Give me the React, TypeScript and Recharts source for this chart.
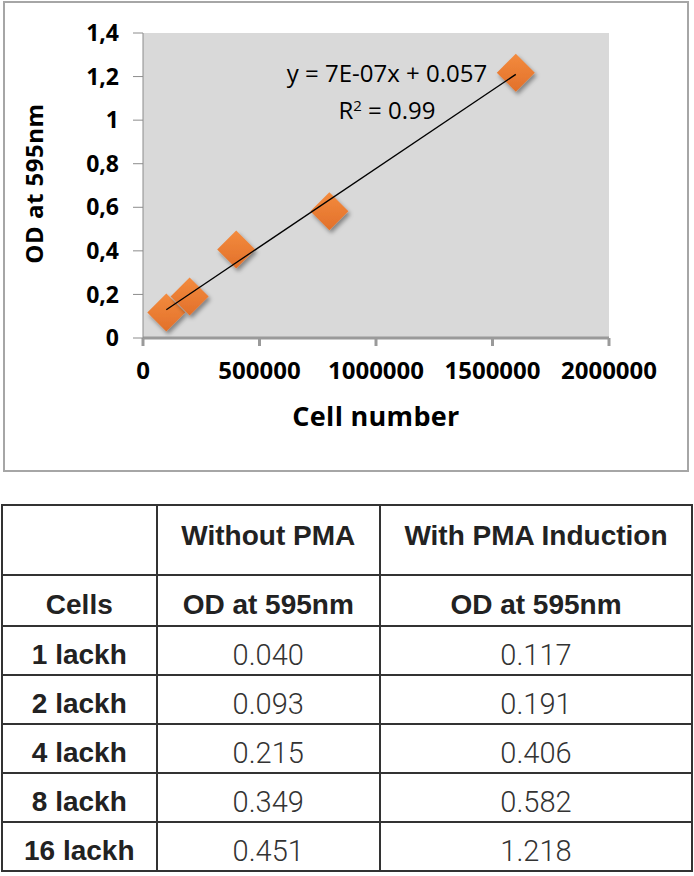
import React from "react";
import { ScatterChart, Scatter, XAxis, YAxis, CartesianGrid, Label } from "recharts";

const cellNumbers = [100000, 200000, 400000, 800000, 1600000];
const cellLabels = ["1 lackh", "2 lackh", "4 lackh", "8 lackh", "16 lackh"];
const odWithoutPMA = ["0.040", "0.093", "0.215", "0.349", "0.451"];
const odWithPMA = [0.117, 0.191, 0.406, 0.582, 1.218];
const trendX = [100000, 1600000];
const trendY = [0.13, 1.21];
const xTicks = [0, 500000, 1000000, 1500000, 2000000];
const yTicks = [0, 0.2, 0.4, 0.6, 0.8, 1, 1.2, 1.4];

const points = cellNumbers.map((x, i) => ({ x, y: odWithPMA[i] }));
const trend = trendX.map((x, i) => ({ x, y: trendY[i] }));

const chartFont = "'Open Sans', sans-serif";
const tableFont = "'Liberation Sans', Arial, sans-serif";

function Diamond(props: any) {
  const { cx, cy } = props;
  if (cx == null || cy == null) return <g />;
  const h = 19;
  return (
    <polygon
      points={`${cx},${cy - h} ${cx + h},${cy} ${cx},${cy + h} ${cx - h},${cy}`}
      fill="url(#diamondFill)"
      filter="url(#diamondShadow)"
    />
  );
}

const yTickStyle = {
  fill: "#000",
  fontSize: 23,
  fontWeight: 700,
  fontFamily: chartFont,
};

const xTickStyle = {
  fill: "#000",
  fontSize: 24,
  fontWeight: 700,
  fontFamily: chartFont,
};

const cell: React.CSSProperties = {
  border: "2px solid #333",
  textAlign: "center",
  padding: 0,
};

const valueCell: React.CSSProperties = {
  ...cell,
  fontFamily: "Roboto, sans-serif",
  fontWeight: 300,
  color: "#333",
  fontSize: 29,
  paddingTop: 8,
};

export default function App() {
  return (
    <div
      style={{
        position: "absolute",
        left: 0,
        top: 0,
        width: 694,
        height: 876,
        background: "#fff",
      }}
    >
      {/* chart box */}
      <div
        style={{
          position: "absolute",
          left: 3,
          top: 1,
          width: 686,
          height: 471,
          border: "2px solid #a6a6a6",
          boxSizing: "border-box",
        }}
      >
        <ScatterChart
          width={682}
          height={467}
          margin={{ top: 30, right: 78, left: 0, bottom: 0 }}
        >
          <defs>
            <linearGradient id="diamondFill" x1="0" y1="0" x2="0" y2="1">
              <stop offset="0%" stopColor="#F38B3E" />
              <stop offset="100%" stopColor="#E2702A" />
            </linearGradient>
            <filter id="diamondShadow" x="-50%" y="-50%" width="200%" height="200%">
              <feDropShadow dx="2" dy="3" stdDeviation="2" floodColor="#000" floodOpacity="0.4" />
            </filter>
          </defs>
          <CartesianGrid fill="#d9d9d9" horizontal={false} vertical={false} />
          <XAxis
            type="number"
            dataKey="x"
            domain={[0, 2000000]}
            ticks={xTicks}
            height={132}
            axisLine={{ stroke: "#9a9a9a", strokeWidth: 3 }}
            tickLine={{ stroke: "#9a9a9a", strokeWidth: 3 }}
            tickSize={8}
            tickMargin={16}
            tick={xTickStyle}
            interval={0}
          >
            <Label
              content={({ viewBox }: any) => (
                <text
                  x={viewBox.x + viewBox.width / 2}
                  y={416}
                  textAnchor="middle"
                  dominantBaseline="middle"
                  fontFamily={chartFont}
                  fontSize={27}
                  fontWeight={700}
                  letterSpacing={0.3}
                  fill="#000"
                >
                  Cell number
                </text>
              )}
            />
          </XAxis>
          <YAxis
            type="number"
            dataKey="y"
            domain={[0, 1.4]}
            ticks={yTicks}
            width={138}
            axisLine={{ stroke: "#8c8c8c", strokeWidth: 1 }}
            tickLine={{ stroke: "#8c8c8c", strokeWidth: 1 }}
            tickSize={10}
            tickMargin={14}
            tick={yTickStyle}
            tickFormatter={(v: number) => String(v).replace(".", ",")}
            interval={0}
          >
            <Label
              content={({ viewBox }: any) => {
                const cx = 32;
                const cy = viewBox.y + viewBox.height / 2 - 2;
                return (
                  <text
                    x={cx}
                    y={cy}
                    transform={`rotate(-90, ${cx}, ${cy})`}
                    textAnchor="middle"
                    dominantBaseline="middle"
                    fontFamily={chartFont}
                    fontSize={24}
                    fontWeight={700}
                    letterSpacing={0.5}
                    fill="#000"
                  >
                    OD at 595nm
                  </text>
                );
              }}
            />
          </YAxis>
          <Scatter data={points} shape={Diamond} isAnimationActive={false} />
          <Scatter
            data={trend}
            line={{ stroke: "#000", strokeWidth: 1.3 }}
            shape={() => <g />}
            isAnimationActive={false}
          />
        </ScatterChart>
        <div
          style={{
            position: "absolute",
            left: 262,
            top: 53,
            width: 240,
            textAlign: "center",
            fontFamily: chartFont,
            fontSize: 24,
            lineHeight: "33px",
            color: "#000",
          }}
        >
          <div>y = 7E-07x + 0.057</div>
          <div>
            R<span style={{ fontSize: 15, verticalAlign: 8 }}>2</span> = 0.99
          </div>
        </div>
      </div>

      {/* table */}
      <table
        style={{
          position: "absolute",
          left: 1,
          top: 504,
          width: 692,
          borderCollapse: "collapse",
          fontFamily: tableFont,
          fontSize: 28,
          color: "#222",
        }}
      >
        <colgroup>
          <col style={{ width: 155 }} />
          <col style={{ width: 224 }} />
          <col style={{ width: 313 }} />
        </colgroup>
        <tbody>
          <tr style={{ height: 70 }}>
            <td style={cell}></td>
            <td style={{ ...cell, fontWeight: 700, verticalAlign: "top", paddingTop: 14 }}>
              Without PMA
            </td>
            <td style={{ ...cell, fontWeight: 700, verticalAlign: "top", paddingTop: 14 }}>
              With PMA Induction
            </td>
          </tr>
          <tr style={{ height: 51 }}>
            <td style={{ ...cell, fontWeight: 700, paddingTop: 8 }}>Cells</td>
            <td style={{ ...cell, fontWeight: 700, paddingTop: 8 }}>OD at 595nm</td>
            <td style={{ ...cell, fontWeight: 700, paddingTop: 8 }}>OD at 595nm</td>
          </tr>
          {cellLabels.map((label, i) => (
            <tr key={label} style={{ height: 49 }}>
              <td style={{ ...cell, fontWeight: 700, paddingTop: 8 }}>{label}</td>
              <td style={valueCell}>{odWithoutPMA[i]}</td>
              <td style={valueCell}>{odWithPMA[i].toFixed(3)}</td>
            </tr>
          ))}
        </tbody>
      </table>
    </div>
  );
}
